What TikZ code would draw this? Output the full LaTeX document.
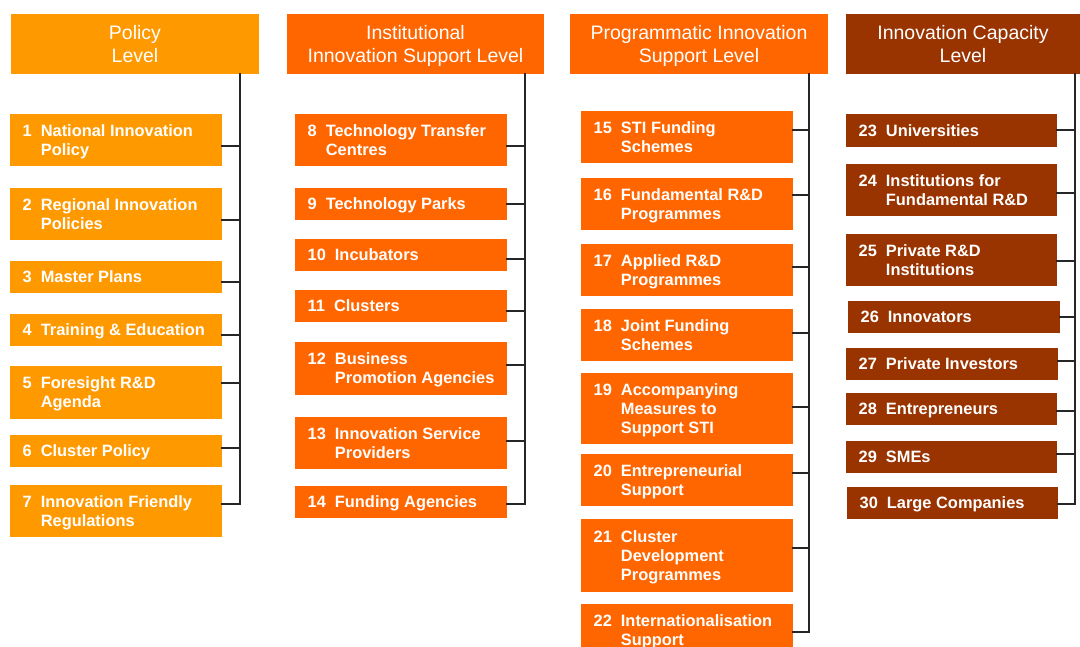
\documentclass[tikz,border=0pt]{standalone}
\usepackage{fontspec}
\setmainfont{Liberation Sans}
\definecolor{polc}{HTML}{FF9900}
\definecolor{instc}{HTML}{FF6600}
\definecolor{capc}{HTML}{993300}
\tikzset{
  hdr/.style={draw=none,inner sep=0pt,outer sep=0pt,anchor=north west,minimum height=60pt},
  hdrtxt/.style={text=white,inner sep=0pt,font=\fontsize{19.5}{23}\selectfont},
  box/.style={draw=none,inner sep=0pt,outer sep=0pt,anchor=north west},
  txt/.style={text=white,inner sep=0pt,anchor=west,font=\fontsize{16.4}{19}\selectfont\bfseries},
  conn/.style={draw=black!85,line width=1.5pt,line cap=rect}
}
\newcommand\ibx[8]{% name,x,y,w,h,color,num,lines
  \node[box,fill=#6,minimum width=#4pt,minimum height=#5pt] (#1) at (#2,#3) {};
  \node[txt] (#1t) at ([xshift=12.5pt,yshift=-2pt]#1.west)
    {\begin{tabular}{@{}l@{\hspace{9pt}}l@{}}#7 & #8\end{tabular}};}
\newcommand\cn[3]{\draw[conn] (#1.east |- 0,#3) -- (#2 |- 0,#3);}
\begin{document}
\begin{tikzpicture}[x=1pt,y=-1pt]
\useasboundingbox (0,0) rectangle (1080,647);
\clip (0,0) rectangle (1080,647);
% headers
\node[hdr,fill=polc,minimum width=248pt] (hp) at (11,14) {};
\node[hdrtxt,yshift=-2.4pt] (hpt) at (hp.center) {\begin{tabular}{@{}c@{}}Policy\\Level\end{tabular}};
\node[hdr,fill=instc,minimum width=257pt] (hi) at (287,14) {};
\node[hdrtxt,yshift=-2.4pt] (hit) at (hi.center) {\begin{tabular}{@{}c@{}}Institutional\\Innovation Support Level\end{tabular}};
\node[hdr,fill=instc,minimum width=258pt] (hq) at (570,14) {};
\node[hdrtxt,yshift=-2.4pt] (hqt) at (hq.center) {\begin{tabular}{@{}c@{}}Programmatic Innovation\\Support Level\end{tabular}};
\node[hdr,fill=capc,minimum width=234pt] (hc) at (846,14) {};
\node[hdrtxt,yshift=-2.4pt] (hct) at (hc.center) {\begin{tabular}{@{}c@{}}Innovation Capacity\\Level\end{tabular}};
% spines
\coordinate (sp) at (240,74);
\coordinate (si) at (525,74);
\coordinate (sq) at (809,74);
\coordinate (sc) at (1075,74);
\draw[conn] (sp) -- (240,504);
\draw[conn] (si) -- (525,504);
\draw[conn] (sq) -- (809,632);
\draw[conn] (sc) -- (1075,504);
% policy
\ibx{b1}{10}{114}{212}{52}{polc}{1}{National Innovation\\ & Policy}
\ibx{b2}{10}{188}{212}{52}{polc}{2}{Regional Innovation\\ & Policies}
\ibx{b3}{10}{261}{212}{32}{polc}{3}{Master Plans}
\ibx{b4}{10}{314}{212}{32}{polc}{4}{Training \& Education}
\ibx{b5}{10}{366}{212}{53}{polc}{5}{Foresight R\&D\\ & Agenda}
\ibx{b6}{10}{435}{212}{32}{polc}{6}{Cluster Policy}
\ibx{b7}{10}{485}{212}{52}{polc}{7}{Innovation Friendly\\ & Regulations}
% institutional
\ibx{b8}{295}{114}{212}{52}{instc}{8}{Technology Transfer\\ & Centres}
\ibx{b9}{295}{188}{212}{32}{instc}{9}{Technology Parks}
\ibx{b10}{295}{239}{212}{32}{instc}{10}{Incubators}
\ibx{b11}{295}{290}{212}{32}{instc}{11}{Clusters}
\ibx{b12}{295}{342}{212}{53}{instc}{12}{Business\\ & Promotion Agencies}
\ibx{b13}{295}{417}{212}{52}{instc}{13}{Innovation Service\\ & Providers}
\ibx{b14}{295}{486}{212}{32}{instc}{14}{Funding Agencies}
% programmatic
\ibx{b15}{581}{111}{212}{52}{instc}{15}{STI Funding\\ & Schemes}
\ibx{b16}{581}{178}{212}{52}{instc}{16}{Fundamental R\&D\\ & Programmes}
\ibx{b17}{581}{244}{212}{52}{instc}{17}{Applied R\&D\\ & Programmes}
\ibx{b18}{581}{309}{212}{52}{instc}{18}{Joint Funding\\ & Schemes}
\ibx{b19}{581}{373}{212}{71}{instc}{19}{Accompanying\\ & Measures to\\ & Support STI}
\ibx{b20}{581}{454}{212}{52}{instc}{20}{Entrepreneurial\\ & Support}
\ibx{b21}{581}{519}{212}{73}{instc}{21}{Cluster\\ & Development\\ & Programmes}
\ibx{b22}{581}{604}{212}{52}{instc}{22}{Internationalisation\\ & Support}
% capacity
\ibx{b23}{846}{114}{211}{33}{capc}{23}{Universities}
\ibx{b24}{846}{164}{211}{52}{capc}{24}{Institutions for\\ & Fundamental R\&D}
\ibx{b25}{846}{234}{211}{52}{capc}{25}{Private R\&D\\ & Institutions}
\ibx{b26}{848}{301}{212}{32}{capc}{26}{Innovators}
\ibx{b27}{846}{348}{212}{32}{capc}{27}{Private Investors}
\ibx{b28}{846}{393}{211}{32}{capc}{28}{Entrepreneurs}
\ibx{b29}{846}{441}{211}{32}{capc}{29}{SMEs}
\ibx{b30}{847}{487}{211}{32}{capc}{30}{Large Companies}
% connectors
\cn{b1}{sp}{146}\cn{b2}{sp}{220}\cn{b3}{sp}{282}\cn{b4}{sp}{335}
\cn{b5}{sp}{383}\cn{b6}{sp}{448}\cn{b7}{sp}{504}
\cn{b8}{si}{146}\cn{b9}{si}{204}\cn{b10}{si}{259}\cn{b11}{si}{311}
\cn{b12}{si}{365}\cn{b13}{si}{441}\cn{b14}{si}{504}
\cn{b15}{sq}{130}\cn{b16}{sq}{195}\cn{b17}{sq}{267}\cn{b18}{sq}{333}
\cn{b19}{sq}{407}\cn{b20}{sq}{473}\cn{b21}{sq}{548}\cn{b22}{sq}{632}
\cn{b23}{sc}{130}\cn{b24}{sc}{193}\cn{b25}{sc}{261}\cn{b26}{sc}{317}
\cn{b27}{sc}{361}\cn{b28}{sc}{411}\cn{b29}{sc}{454}\cn{b30}{sc}{504}
\end{tikzpicture}
\end{document}
